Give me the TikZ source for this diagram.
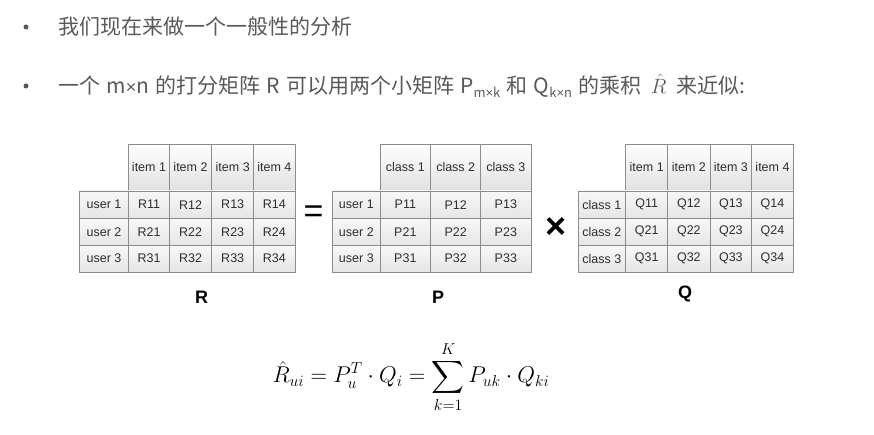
\documentclass[tikz,border=0pt]{standalone}
\usepackage{fontspec}
\setmainfont{Liberation Sans}
\newfontfamily\cjk{Noto Sans CJK SC}
\usepackage{amsmath}
\usepackage{graphicx}
\definecolor{txtgray}{HTML}{595959}
\definecolor{celltxt}{HTML}{2E2E2E}
\definecolor{cellline}{HTML}{8C8C8C}
\tikzset{
  cellbase/.style={draw=cellline, line width=0.8pt, inner sep=0pt, text=celltxt, font=\fontsize{12.5}{14}\selectfont},
  headcell/.style={cellbase, top color=white, bottom color=black!12},
  rowcell/.style={cellbase, top color=black!3, bottom color=black!10},
  datacell/.style={cellbase, top color=black!3, bottom color=black!10},
  bigl/.style={font=\fontsize{18}{20}\selectfont\bfseries, text=black},
  bullet/.style={circle, fill=txtgray, inner sep=0pt, minimum size=5pt},
  linetext/.style={anchor=west, text=txtgray, font=\cjk\fontsize{21}{24}\selectfont, inner sep=0pt}
}
\newcommand\mcell[7]{%
  \pgfmathsetmacro\cw{#4-#2}\pgfmathsetmacro\ch{#5-#3}%
  \node[#7, minimum width=\cw pt, minimum height=\ch pt] (#1) at ({(#2+#4)/2},{(#3+#5)/2}) {#6};}
\newcommand\smx{{\rmfamily\fontsize{18}{20}\selectfont ×}}
\begin{document}
\begin{tikzpicture}[x=1pt,y=-1pt]
\useasboundingbox[fill=white] (0,0) rectangle (874,435);
% bullets and text
\node[bullet] (b1) at (26,27) {};
\node[linetext] (t1) at (58,27) {我们现在来做一个一般性的分析};
\node[bullet] (b2) at (26,86) {};
\node[linetext] (t2) at (58,86) {\spaceskip=6.2pt一个 m\smx n 的打分矩阵 R 可以用两个小矩阵 P\raisebox{-4pt}{\fontsize{13}{14}\selectfont m{\rmfamily ×}k} 和 Q\raisebox{-4pt}{\fontsize{13}{14}\selectfont k{\rmfamily ×}n} 的乘积 \,$\hat{R}$\, 来近似:};
% R table
\def\ya{144}\def\yb{191}\def\yc{218.3}\def\yd{245.3}\def\ye{272}
\mcell{Rh1}{128.7}{\ya}{169.3}{\yb}{item 1}{headcell}
\mcell{Rh2}{169.3}{\ya}{211.7}{\yb}{item 2}{headcell}
\mcell{Rh3}{211.7}{\ya}{253.7}{\yb}{item 3}{headcell}
\mcell{Rh4}{253.7}{\ya}{295}{\yb}{item 4}{headcell}
\mcell{Ru1}{79.3}{\yb}{128.7}{\yc}{user 1}{rowcell}
\mcell{Ru2}{79.3}{\yc}{128.7}{\yd}{user 2}{rowcell}
\mcell{Ru3}{79.3}{\yd}{128.7}{\ye}{user 3}{rowcell}
\foreach \r/\ta/\tb in {1/\yb/\yc,2/\yc/\yd,3/\yd/\ye}{
  \mcell{R\r1}{128.7}{\ta}{169.3}{\tb}{R\r1}{datacell}
  \mcell{R\r2}{169.3}{\ta}{211.7}{\tb}{R\r2}{datacell}
  \mcell{R\r3}{211.7}{\ta}{253.7}{\tb}{R\r3}{datacell}
  \mcell{R\r4}{253.7}{\ta}{295}{\tb}{R\r4}{datacell}
}
\node[bigl] (Rl) at (201.5,297) {R};
% equals
\node[font=\fontsize{34}{36}\selectfont, inner sep=0pt] (eq) at (313.5,214) {=};
% P table
\mcell{Ph1}{380}{\ya}{430.7}{\yb}{class 1}{headcell}
\mcell{Ph2}{430.7}{\ya}{480.7}{\yb}{class 2}{headcell}
\mcell{Ph3}{480.7}{\ya}{531}{\yb}{class 3}{headcell}
\mcell{Pu1}{332.7}{\yb}{380}{\yc}{user 1}{rowcell}
\mcell{Pu2}{332.7}{\yc}{380}{\yd}{user 2}{rowcell}
\mcell{Pu3}{332.7}{\yd}{380}{\ye}{user 3}{rowcell}
\foreach \r/\ta/\tb in {1/\yb/\yc,2/\yc/\yd,3/\yd/\ye}{
  \mcell{P\r1}{380}{\ta}{430.7}{\tb}{P\r1}{datacell}
  \mcell{P\r2}{430.7}{\ta}{480.7}{\tb}{P\r2}{datacell}
  \mcell{P\r3}{480.7}{\ta}{531}{\tb}{P\r3}{datacell}
}
\node[bigl] (Pl) at (438,297) {P};
% times
\node[font=\fontsize{36}{38}\selectfont\bfseries, inner sep=0pt] (tm) at (556,228) {×};
% Q table
\mcell{Qh1}{625.7}{\ya}{667.7}{\yb}{item 1}{headcell}
\mcell{Qh2}{667.7}{\ya}{710}{\yb}{item 2}{headcell}
\mcell{Qh3}{710}{\ya}{751.7}{\yb}{item 3}{headcell}
\mcell{Qh4}{751.7}{\ya}{793.3}{\yb}{item 4}{headcell}
\mcell{Qc1}{578}{\yb}{625.7}{\yc}{class 1}{rowcell}
\mcell{Qc2}{578}{\yc}{625.7}{\yd}{class 2}{rowcell}
\mcell{Qc3}{578}{\yd}{625.7}{\ye}{class 3}{rowcell}
\foreach \r/\ta/\tb in {1/\yb/\yc,2/\yc/\yd,3/\yd/\ye}{
  \mcell{Q\r1}{625.7}{\ta}{667.7}{\tb}{Q\r1}{datacell}
  \mcell{Q\r2}{667.7}{\ta}{710}{\tb}{Q\r2}{datacell}
  \mcell{Q\r3}{710}{\ta}{751.7}{\tb}{Q\r3}{datacell}
  \mcell{Q\r4}{751.7}{\ta}{793.3}{\tb}{Q\r4}{datacell}
}
\node[bigl] (Ql) at (685,294) {Q};
% formula
\node[inner sep=0pt] (fm) at (411,377) {\scalebox{1.1}{\fontsize{20}{24}\selectfont$\displaystyle \hat{R}_{ui} = P_u^T\cdot Q_i = \sum_{k=1}^{K} P_{uk}\cdot Q_{ki}$}};
\end{tikzpicture}
\end{document}
